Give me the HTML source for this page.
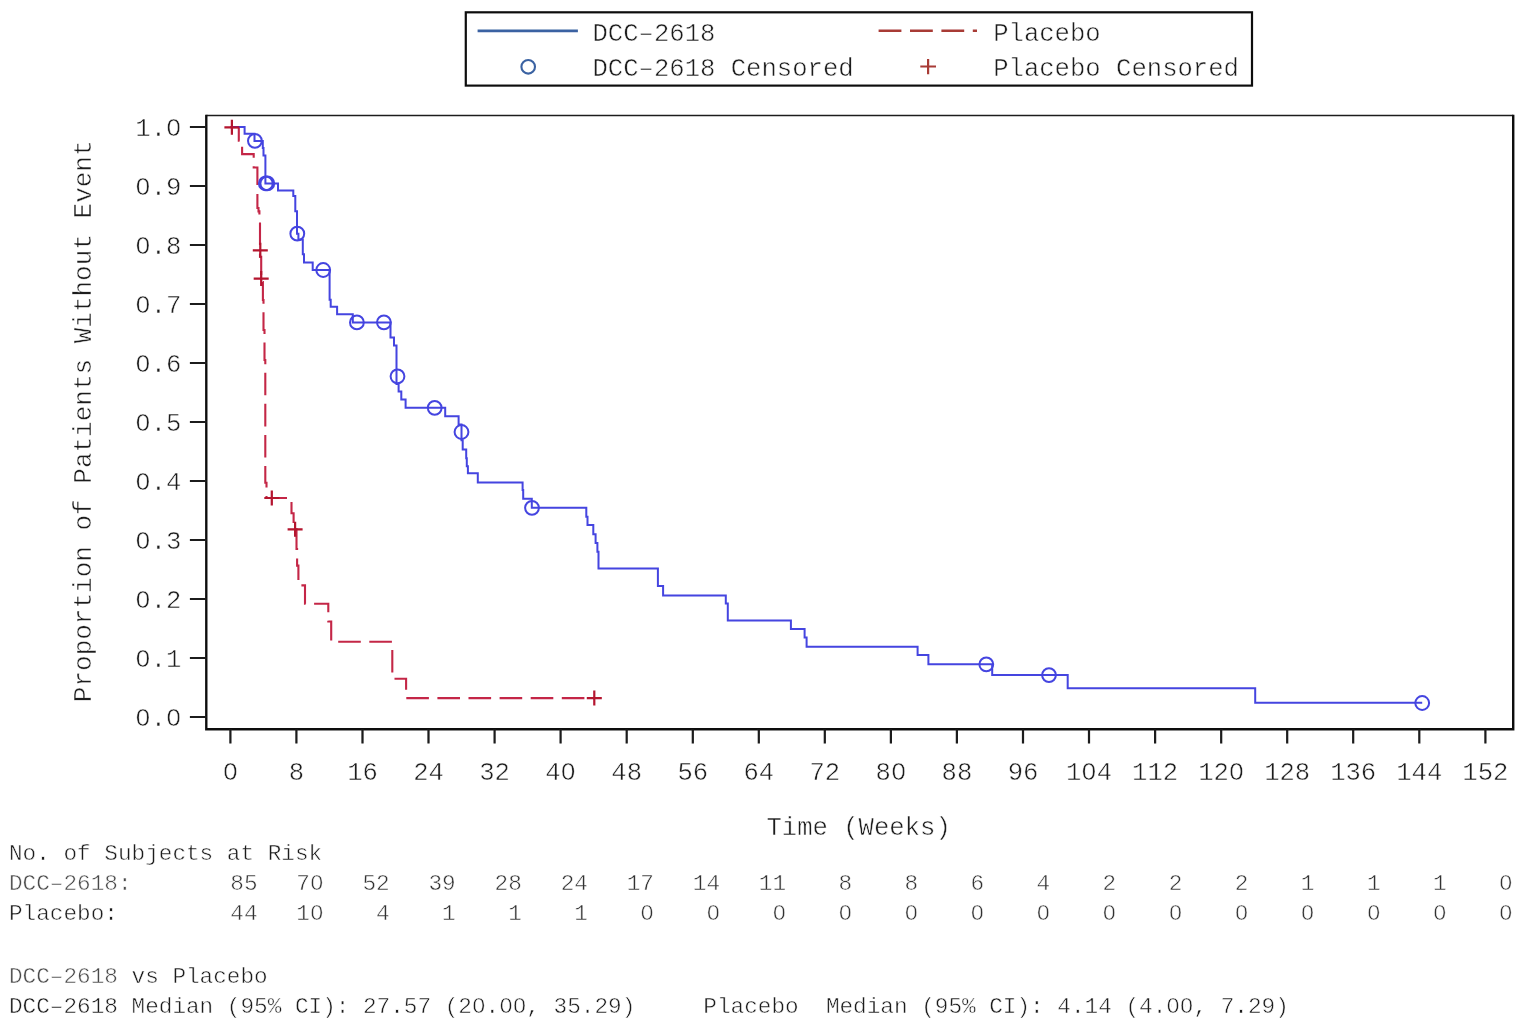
<!DOCTYPE html>
<html><head><meta charset="utf-8"><title>Kaplan-Meier</title>
<style>html,body{margin:0;padding:0;background:#fff;}svg{display:block;}</style></head>
<body><svg width="1530" height="1031" viewBox="0 0 1530 1031">
<defs><filter id="bl" filterUnits="userSpaceOnUse" x="0" y="0" width="1530" height="1031"><feGaussianBlur stdDeviation="0.55"/></filter></defs>
<rect width="1530" height="1031" fill="#fff"/>
<g filter="url(#bl)">
<rect x="465.8" y="12.3" width="786.2" height="73.3" fill="none" stroke="#111" stroke-width="2.2"/>
<line x1="477.6" y1="30.9" x2="577.9" y2="30.9" stroke="#3a62a2" stroke-width="2.6"/>
<line x1="878.6" y1="30.7" x2="977" y2="30.7" stroke="#a83a36" stroke-width="2.6" stroke-dasharray="22.8 8.6"/>
<circle cx="528.2" cy="66.8" r="6.8" fill="none" stroke="#3a62a2" stroke-width="2.1"/>
<path d="M920.3 66.5H936M928.1 59.1V74.3" stroke="#a83a36" stroke-width="2.2" fill="none"/>
<g font-family='"Liberation Mono", monospace' font-size="25.6" fill="#1a1a1a" stroke="#fff" stroke-width="0.5">
<text x="592.5" y="40.6">DCC&#8211;2618</text>
<text x="592.5" y="76.3">DCC&#8211;2618 Censored</text>
<text x="993.2" y="40.6">Placebo</text>
<text x="993.2" y="76.3">Placebo Censored</text>
</g>
<path d="M206.3 115.5H1513.2" stroke="#1e1e1e" stroke-width="1.5"/>
<path d="M206.3 114.8V729.3H1513.2V114.8" fill="none" stroke="#111" stroke-width="2.4"/>
<path d="M189.9 717.0H206.3 M189.9 658.0H206.3 M189.9 599.0H206.3 M189.9 540.0H206.3 M189.9 481.0H206.3 M189.9 422.0H206.3 M189.9 363.0H206.3 M189.9 304.0H206.3 M189.9 245.0H206.3 M189.9 186.0H206.3 M189.9 127.0H206.3" stroke="#1a1a1a" stroke-width="2.2"/>
<path d="M230.4 729.3V743.6 M296.4 729.3V743.6 M362.5 729.3V743.6 M428.5 729.3V743.6 M494.6 729.3V743.6 M560.6 729.3V743.6 M626.7 729.3V743.6 M692.8 729.3V743.6 M758.8 729.3V743.6 M824.8 729.3V743.6 M890.9 729.3V743.6 M956.9 729.3V743.6 M1023.0 729.3V743.6 M1089.0 729.3V743.6 M1155.1 729.3V743.6 M1221.2 729.3V743.6 M1287.2 729.3V743.6 M1353.2 729.3V743.6 M1419.3 729.3V743.6 M1485.4 729.3V743.6" stroke="#1a1a1a" stroke-width="2.2"/>
<g font-family='"Liberation Mono", monospace' font-size="25.6" fill="#1a1a1a" stroke="#fff" stroke-width="0.5">
<text x="181.4" y="725.6" text-anchor="end">0.0</text>
<text x="181.4" y="666.6" text-anchor="end">0.1</text>
<text x="181.4" y="607.6" text-anchor="end">0.2</text>
<text x="181.4" y="548.6" text-anchor="end">0.3</text>
<text x="181.4" y="489.6" text-anchor="end">0.4</text>
<text x="181.4" y="430.6" text-anchor="end">0.5</text>
<text x="181.4" y="371.6" text-anchor="end">0.6</text>
<text x="181.4" y="312.6" text-anchor="end">0.7</text>
<text x="181.4" y="253.6" text-anchor="end">0.8</text>
<text x="181.4" y="194.6" text-anchor="end">0.9</text>
<text x="181.4" y="135.6" text-anchor="end">1.0</text>
<text x="230.4" y="779.5" text-anchor="middle">0</text>
<text x="296.4" y="779.5" text-anchor="middle">8</text>
<text x="362.5" y="779.5" text-anchor="middle">16</text>
<text x="428.5" y="779.5" text-anchor="middle">24</text>
<text x="494.6" y="779.5" text-anchor="middle">32</text>
<text x="560.6" y="779.5" text-anchor="middle">40</text>
<text x="626.7" y="779.5" text-anchor="middle">48</text>
<text x="692.8" y="779.5" text-anchor="middle">56</text>
<text x="758.8" y="779.5" text-anchor="middle">64</text>
<text x="824.8" y="779.5" text-anchor="middle">72</text>
<text x="890.9" y="779.5" text-anchor="middle">80</text>
<text x="956.9" y="779.5" text-anchor="middle">88</text>
<text x="1023.0" y="779.5" text-anchor="middle">96</text>
<text x="1089.0" y="779.5" text-anchor="middle">104</text>
<text x="1155.1" y="779.5" text-anchor="middle">112</text>
<text x="1221.2" y="779.5" text-anchor="middle">120</text>
<text x="1287.2" y="779.5" text-anchor="middle">128</text>
<text x="1353.2" y="779.5" text-anchor="middle">136</text>
<text x="1419.3" y="779.5" text-anchor="middle">144</text>
<text x="1485.4" y="779.5" text-anchor="middle">152</text>
<text x="858.6" y="834.5" text-anchor="middle">Time (Weeks)</text>
<text transform="translate(90.7 421.3) rotate(-90)" text-anchor="middle" font-size="26">Proportion of Patients Without Event</text>
</g>
<g font-family='"Liberation Mono", monospace' font-size="22.7" fill="#1a1a1a" stroke="#fff" stroke-width="0.5">
<text x="9" y="859.5">No. of Subjects at Risk</text>
<text x="9" y="889.8" fill="#4a4a4a">DCC&#8211;2618:</text>
<text x="9" y="920.3">Placebo:</text>
<text x="257.6" y="889.8" text-anchor="end" fill="#333">85</text>
<text x="257.6" y="920.3" text-anchor="end" fill="#333">44</text>
<text x="323.6" y="889.8" text-anchor="end" fill="#333">70</text>
<text x="323.6" y="920.3" text-anchor="end" fill="#333">10</text>
<text x="389.7" y="889.8" text-anchor="end" fill="#333">52</text>
<text x="389.7" y="920.3" text-anchor="end" fill="#333">4</text>
<text x="455.7" y="889.8" text-anchor="end" fill="#333">39</text>
<text x="455.7" y="920.3" text-anchor="end" fill="#333">1</text>
<text x="521.8" y="889.8" text-anchor="end" fill="#333">28</text>
<text x="521.8" y="920.3" text-anchor="end" fill="#333">1</text>
<text x="587.9" y="889.8" text-anchor="end" fill="#333">24</text>
<text x="587.9" y="920.3" text-anchor="end" fill="#333">1</text>
<text x="653.9" y="889.8" text-anchor="end" fill="#333">17</text>
<text x="653.9" y="920.3" text-anchor="end" fill="#333">0</text>
<text x="720.0" y="889.8" text-anchor="end" fill="#333">14</text>
<text x="720.0" y="920.3" text-anchor="end" fill="#333">0</text>
<text x="786.0" y="889.8" text-anchor="end" fill="#333">11</text>
<text x="786.0" y="920.3" text-anchor="end" fill="#333">0</text>
<text x="852.0" y="889.8" text-anchor="end" fill="#333">8</text>
<text x="852.0" y="920.3" text-anchor="end" fill="#333">0</text>
<text x="918.1" y="889.8" text-anchor="end" fill="#333">8</text>
<text x="918.1" y="920.3" text-anchor="end" fill="#333">0</text>
<text x="984.1" y="889.8" text-anchor="end" fill="#333">6</text>
<text x="984.1" y="920.3" text-anchor="end" fill="#333">0</text>
<text x="1050.2" y="889.8" text-anchor="end" fill="#333">4</text>
<text x="1050.2" y="920.3" text-anchor="end" fill="#333">0</text>
<text x="1116.2" y="889.8" text-anchor="end" fill="#333">2</text>
<text x="1116.2" y="920.3" text-anchor="end" fill="#333">0</text>
<text x="1182.3" y="889.8" text-anchor="end" fill="#333">2</text>
<text x="1182.3" y="920.3" text-anchor="end" fill="#333">0</text>
<text x="1248.4" y="889.8" text-anchor="end" fill="#333">2</text>
<text x="1248.4" y="920.3" text-anchor="end" fill="#333">0</text>
<text x="1314.4" y="889.8" text-anchor="end" fill="#333">1</text>
<text x="1314.4" y="920.3" text-anchor="end" fill="#333">0</text>
<text x="1380.5" y="889.8" text-anchor="end" fill="#333">1</text>
<text x="1380.5" y="920.3" text-anchor="end" fill="#333">0</text>
<text x="1446.5" y="889.8" text-anchor="end" fill="#333">1</text>
<text x="1446.5" y="920.3" text-anchor="end" fill="#333">0</text>
<text x="1512.6" y="889.8" text-anchor="end" fill="#333">0</text>
<text x="1512.6" y="920.3" text-anchor="end" fill="#333">0</text>
<text x="9" y="982.9"><tspan fill="#4a4a4a">DCC&#8211;2618</tspan> vs Placebo</text>
<text x="9" y="1012.6" xml:space="preserve">DCC&#8211;2618 Median (95% CI): 27.57 (20.00, 35.29)     Placebo  Median (95% CI): 4.14 (4.00, 7.29)</text>
</g>
<g fill="#fff"><ellipse cx="142.98" cy="717.11" rx="2.56" ry="2.82"/><ellipse cx="173.71" cy="717.11" rx="2.56" ry="2.82"/><ellipse cx="142.98" cy="658.11" rx="2.56" ry="2.82"/><ellipse cx="142.98" cy="599.11" rx="2.56" ry="2.82"/><ellipse cx="142.98" cy="540.11" rx="2.56" ry="2.82"/><ellipse cx="142.98" cy="481.11" rx="2.56" ry="2.82"/><ellipse cx="142.98" cy="422.11" rx="2.56" ry="2.82"/><ellipse cx="142.98" cy="363.11" rx="2.56" ry="2.82"/><ellipse cx="142.98" cy="304.11" rx="2.56" ry="2.82"/><ellipse cx="142.98" cy="245.11" rx="2.56" ry="2.82"/><ellipse cx="142.98" cy="186.11" rx="2.56" ry="2.82"/><ellipse cx="173.71" cy="127.11" rx="2.56" ry="2.82"/><ellipse cx="230.39" cy="771.01" rx="2.56" ry="2.82"/><ellipse cx="568.32" cy="771.01" rx="2.56" ry="2.82"/><ellipse cx="898.57" cy="771.01" rx="2.56" ry="2.82"/><ellipse cx="1089.04" cy="771.01" rx="2.56" ry="2.82"/><ellipse cx="1236.50" cy="771.01" rx="2.56" ry="2.82"/><ellipse cx="316.83" cy="882.27" rx="2.27" ry="2.50"/><ellipse cx="316.83" cy="912.77" rx="2.27" ry="2.50"/><ellipse cx="647.08" cy="912.77" rx="2.27" ry="2.50"/><ellipse cx="713.13" cy="912.77" rx="2.27" ry="2.50"/><ellipse cx="779.18" cy="912.77" rx="2.27" ry="2.50"/><ellipse cx="845.23" cy="912.77" rx="2.27" ry="2.50"/><ellipse cx="911.28" cy="912.77" rx="2.27" ry="2.50"/><ellipse cx="977.33" cy="912.77" rx="2.27" ry="2.50"/><ellipse cx="1043.38" cy="912.77" rx="2.27" ry="2.50"/><ellipse cx="1109.43" cy="912.77" rx="2.27" ry="2.50"/><ellipse cx="1175.48" cy="912.77" rx="2.27" ry="2.50"/><ellipse cx="1241.53" cy="912.77" rx="2.27" ry="2.50"/><ellipse cx="1307.58" cy="912.77" rx="2.27" ry="2.50"/><ellipse cx="1373.63" cy="912.77" rx="2.27" ry="2.50"/><ellipse cx="1439.68" cy="912.77" rx="2.27" ry="2.50"/><ellipse cx="1505.73" cy="882.27" rx="2.27" ry="2.50"/><ellipse cx="1505.73" cy="912.77" rx="2.27" ry="2.50"/><ellipse cx="478.96" cy="1005.07" rx="2.27" ry="2.50"/><ellipse cx="506.20" cy="1005.07" rx="2.27" ry="2.50"/><ellipse cx="519.82" cy="1005.07" rx="2.27" ry="2.50"/><ellipse cx="1173.69" cy="1005.07" rx="2.27" ry="2.50"/><ellipse cx="1187.31" cy="1005.07" rx="2.27" ry="2.50"/></g>
<g fill="none" stroke="#c42646" stroke-width="2.1" stroke-dasharray="22.6 8.5">
<path d="M230.4,127.3 H238.8 V140.7 H242.1 V154.1 H253.7 V167.5 H257.4 V185.5"/>
<path d="M257.4,185.5 V208 H258.5 V211.4 H259.4 V222 H260 V256.7 H261.2 V282 H262.9 V300 H263.5 V330 H264.5 V360 H265.3 V482.7 H266.5 V498 H291.5 V513.3 H293.6 V522 H295.1 V529.3 H296.5 V549 H297.1 V565.6 H298.4 V585.4 H305 V603.8 H328.3 V621.5 H331.2 V641.8" stroke-dashoffset="22.6"/>
<path d="M331.2,641.8 H392.3 V678.8 H406.1 V698.1 H594.3" stroke-dashoffset="24.1"/>
</g>
<path d="M230.4,127 H244.6 V133.8 H254.5 V141.1 H262.8 V148 H263.5 V155.6 H265.4 V183.5 H278.0 V190.6 H293.3 V196.0 H295.3 V211.3 H297.0 V233.7 H298.4 V239.5 H302.8 V254.3 H304 V262.5 H312.7 V270.0 H329.6 V299.7 H330.7 V306.7 H337.1 V314.3 H352.8 V322.4 H390.5 V337.4 H394.0 V345.5 H396.5 V383.9 H398.6 V391.5 H401.3 V399.6 H405.6 V407.8 H445.2 V416.2 H458.6 V424.4 H461.5 V440.2 H462.7 V449.5 H466.2 V458.2 H466.8 V466.3 H467.9 V473.3 H477.8 V482.6 H522.6 V490 H523.2 V498.8 H531.8 V507.8 H586.3 V516.8 H587.5 V524.9 H593.3 V534.2 H595.6 V543 H597.4 V551.7 H598.5 V568.5 H657.9 V586.0 H663.1 V595.4 H725.8 V603.5 H727.8 V620.5 H790.9 V629.0 H804.6 V637.5 H806.6 V646.7 H917.6 V655.1 H928.4 V664.3 H992.2 V675.1 H1067.7 V688.3 H1255.2 V702.8 H1422.2" fill="none" stroke="#4444e0" stroke-width="2"/>
<circle cx="254.9" cy="140.8" r="6.9" fill="none" stroke="#4444e0" stroke-width="2"/>
<circle cx="265.8" cy="183.4" r="6.9" fill="none" stroke="#4444e0" stroke-width="2"/>
<circle cx="267.3" cy="183.4" r="6.9" fill="none" stroke="#4444e0" stroke-width="2"/>
<circle cx="297.3" cy="233.7" r="6.9" fill="none" stroke="#4444e0" stroke-width="2"/>
<circle cx="323.2" cy="270.0" r="6.9" fill="none" stroke="#4444e0" stroke-width="2"/>
<circle cx="356.9" cy="322.4" r="6.9" fill="none" stroke="#4444e0" stroke-width="2"/>
<circle cx="383.9" cy="322.3" r="6.9" fill="none" stroke="#4444e0" stroke-width="2"/>
<circle cx="397.5" cy="376.3" r="6.9" fill="none" stroke="#4444e0" stroke-width="2"/>
<circle cx="434.7" cy="407.8" r="6.9" fill="none" stroke="#4444e0" stroke-width="2"/>
<circle cx="461.5" cy="432.0" r="6.9" fill="none" stroke="#4444e0" stroke-width="2"/>
<circle cx="532" cy="507.8" r="6.9" fill="none" stroke="#4444e0" stroke-width="2"/>
<circle cx="986.3" cy="664.3" r="6.9" fill="none" stroke="#4444e0" stroke-width="2"/>
<circle cx="1049" cy="675.1" r="6.9" fill="none" stroke="#4444e0" stroke-width="2"/>
<circle cx="1422.2" cy="703" r="6.9" fill="none" stroke="#4444e0" stroke-width="2"/>
<path d="M224.4 127.3H239.4M231.9 119.8V134.8 M252.8 250.3H267.8M260.3 242.8V257.8 M253.7 278.6H268.7M261.2 271.1V286.1 M264.3 498.0H279.3M271.8 490.5V505.5 M287.6 529.3H302.6M295.1 521.8V536.8 M586.8 698.1H601.8M594.3 690.6V705.6" stroke="#b4122e" stroke-width="2.2" fill="none"/>
</g>
</svg></body></html>
